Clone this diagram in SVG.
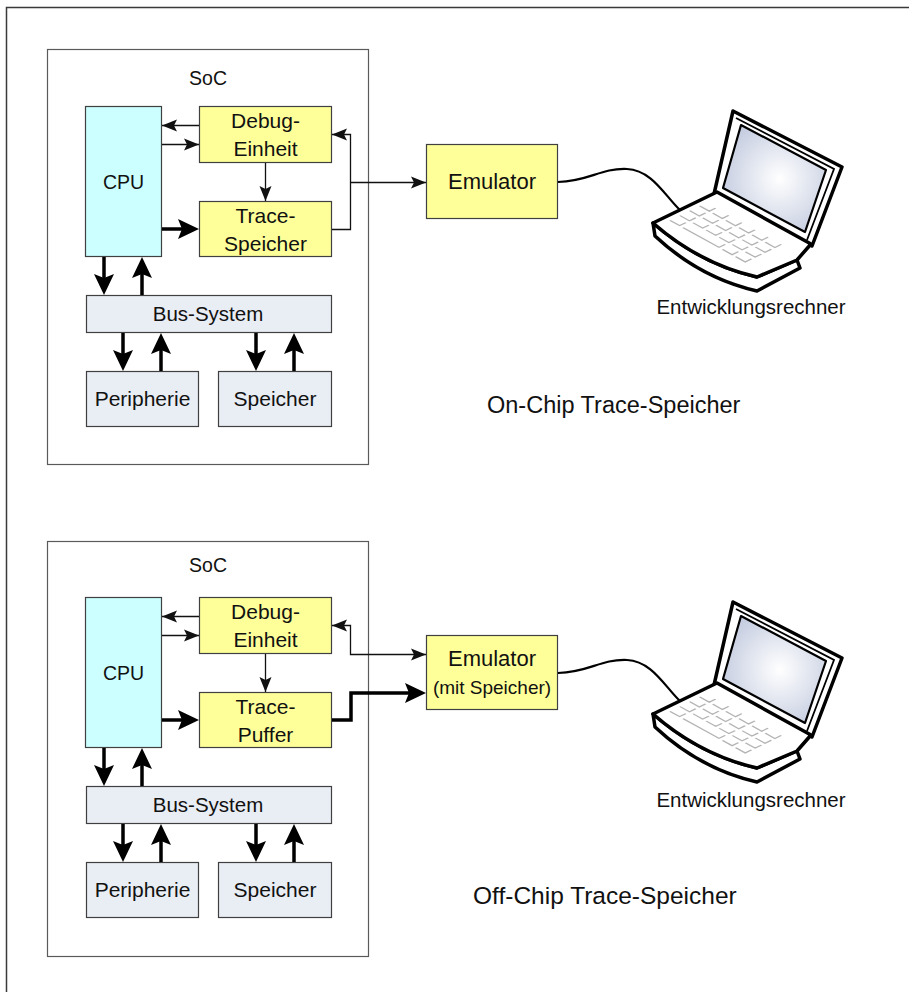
<svg xmlns="http://www.w3.org/2000/svg" xmlns:xlink="http://www.w3.org/1999/xlink" width="909" height="992" viewBox="0 0 909 992">
  <style>
    text { font-family: "Liberation Sans", Arial, sans-serif; font-size: 21px; fill: #111; text-anchor: middle; }
    .cap { font-size: 23.5px; text-anchor: start; }
    .small { font-size: 19px; }
    .soc { fill: #ffffff; stroke: #5a5a5a; stroke-width: 1.2; }
    .box { stroke: #404040; stroke-width: 1.2; }
    .cpu { fill: #ccffff; }
    .yel { fill: #ffff99; }
    .gry { fill: #e9edf4; }
    .thin { fill: none; stroke: #111; stroke-width: 1.3; }
    .thick { fill: none; stroke: #000; stroke-width: 3.5; }
    .cable { fill: none; stroke: #000; stroke-width: 2.2; }
    .lap { fill: #ffffff; stroke: #000; stroke-width: 3.5; stroke-linejoin: round; }
    .keys { fill: none; stroke: #b4b4b4; stroke-width: 1.6; }
  </style>
  <defs>
    <marker id="ah" markerUnits="userSpaceOnUse" markerWidth="15" markerHeight="12" refX="15" refY="6" orient="auto-start-reverse" overflow="visible">
      <path d="M0,0 L15,6 L0,12 L3,6 Z" fill="#111"/>
    </marker>
    <marker id="ahb" markerUnits="userSpaceOnUse" markerWidth="21" markerHeight="20" refX="13" refY="10" orient="auto" overflow="visible">
      <path d="M0,0 L21,10 L0,20 L4,10 Z" fill="#000"/>
    </marker>
    <radialGradient id="screen" cx="0.55" cy="0.5" r="0.6">
      <stop offset="0" stop-color="#ffffff"/>
      <stop offset="1" stop-color="#c3cbdf"/>
    </radialGradient>
    <!-- notebook computer, drawn at the upper position -->
    <g id="laptop">
      <path class="lap" d="M733,111 L842,167 L812,246 L714,194 Z"/>
      <path fill="none" stroke="#000" stroke-width="1.8" d="M736,118 L834,169 L807,240"/>
      <path fill="url(#screen)" stroke="#000" stroke-width="2.2" stroke-linejoin="round" d="M741,125 L826,170 L805,232 L723,188 Z"/>
      <path class="lap" d="M653,223 L655,236 Q700,278 757,291 L800,268 L797,260 L757,277 Q700,264 653,223 Z"/>
      <path class="lap" d="M653,223 L717,192 L811,244 L797,260 L757,277 Q700,264 653,223 Z"/>
      <path class="keys" transform="matrix(0.875,0.484,-0.9,0.436,706,201)"
        d="M2,9 H13 V2 M17,9 H28 V2 M32,9 H43 V2 M47,9 H58 V2 M62,9 H73 V2 M77,9 H88 V2
           M2,20 H13 V13 M17,20 H28 V13 M32,20 H43 V13 M47,20 H58 V13 M62,20 H73 V13 M77,20 H88 V13
           M2,31 H13 V24 M17,31 H28 V24 M32,31 H43 V24 M47,31 H58 V24 M62,31 H73 V24 M77,31 H88 V24
           M2,42 H13 V35 M17,42 H58 V35 M62,42 H73 V35 M77,42 H88 V35"/>
    </g>
  </defs>

  <!-- outer frame -->
  <rect x="6.5" y="7.5" width="980" height="1000" fill="#ffffff" stroke="#3a3a3a" stroke-width="1.5"/>

  <!-- ===== upper variant: on-chip trace memory ===== -->
  <g id="soc-top">
    <rect class="soc" x="47.5" y="49.5" width="321" height="415"/>
    <text x="208" y="85" style="font-size:19.5px">SoC</text>
  </g>
  <g id="cpu-top">
    <rect class="box cpu" x="85.5" y="106.5" width="76" height="150"/>
    <text x="123.5" y="189" style="font-size:19.5px">CPU</text>
  </g>
  <g id="debug-top">
    <rect class="box yel" x="199.5" y="106.5" width="132" height="56"/>
    <text x="265.5" y="128">Debug-</text>
    <text x="265.5" y="156">Einheit</text>
  </g>
  <g id="trace-top">
    <rect class="box yel" x="199.5" y="201.5" width="132" height="55"/>
    <text x="265.5" y="223">Trace-</text>
    <text x="265.5" y="251">Speicher</text>
  </g>
  <g id="bus-top">
    <rect class="box gry" x="86.5" y="295.5" width="245" height="37"/>
    <text x="208" y="321" style="font-size:20.5px">Bus-System</text>
  </g>
  <g id="periph-top">
    <rect class="box gry" x="86.5" y="371.5" width="112" height="55"/>
    <text x="142.5" y="406">Peripherie</text>
  </g>
  <g id="mem-top">
    <rect class="box gry" x="218.5" y="371.5" width="113" height="55"/>
    <text x="275" y="406">Speicher</text>
  </g>
  <g id="emu-top">
    <rect class="box yel" x="426.5" y="144.5" width="131" height="74"/>
    <text x="492" y="189" style="font-size:22px">Emulator</text>
  </g>
  <g id="pc-top">
    <use xlink:href="#laptop" href="#laptop"/>
    <text x="751" y="314" style="font-size:20.5px">Entwicklungsrechner</text>
  </g>
  <g id="caption-top">
    <text class="cap" x="487" y="413">On-Chip Trace-Speicher</text>
  </g>

  <!-- ===== lower variant: off-chip trace memory ===== -->
  <g id="soc-bottom">
    <rect class="soc" x="47.5" y="541.5" width="321" height="415"/>
    <text x="208" y="572" style="font-size:19.5px">SoC</text>
  </g>
  <g id="cpu-bottom">
    <rect class="box cpu" x="85.5" y="597.5" width="76" height="150"/>
    <text x="123.5" y="680" style="font-size:19.5px">CPU</text>
  </g>
  <g id="debug-bottom">
    <rect class="box yel" x="199.5" y="597.5" width="132" height="56"/>
    <text x="265.5" y="619">Debug-</text>
    <text x="265.5" y="647">Einheit</text>
  </g>
  <g id="trace-bottom">
    <rect class="box yel" x="199.5" y="692.5" width="132" height="55"/>
    <text x="265.5" y="714">Trace-</text>
    <text x="265.5" y="742">Puffer</text>
  </g>
  <g id="bus-bottom">
    <rect class="box gry" x="86.5" y="786.5" width="245" height="37"/>
    <text x="208" y="812" style="font-size:20.5px">Bus-System</text>
  </g>
  <g id="periph-bottom">
    <rect class="box gry" x="86.5" y="862.5" width="112" height="55"/>
    <text x="142.5" y="897">Peripherie</text>
  </g>
  <g id="mem-bottom">
    <rect class="box gry" x="218.5" y="862.5" width="113" height="55"/>
    <text x="275" y="897">Speicher</text>
  </g>
  <g id="emu-bottom">
    <rect class="box yel" x="426.5" y="635.5" width="131" height="74"/>
    <text x="492" y="666" style="font-size:22px">Emulator</text>
    <text x="492" y="694" class="small">(mit Speicher)</text>
  </g>
  <g id="pc-bottom">
    <use xlink:href="#laptop" href="#laptop" transform="translate(0,491)"/>
    <text x="751" y="807" style="font-size:20.5px">Entwicklungsrechner</text>
  </g>
  <g id="caption-bottom">
    <text class="cap" x="473" y="904" style="font-size:24.5px">Off-Chip Trace-Speicher</text>
  </g>

  <!-- ===== connectors ===== -->
  <g id="connectors">
    <!-- upper -->
    <path class="thin" marker-end="url(#ah)" d="M199,125.5 H162"/>
    <path class="thin" marker-end="url(#ah)" d="M162,144.5 H199"/>
    <path class="thin" marker-end="url(#ah)" d="M265.5,163 V201"/>
    <path class="thick" marker-end="url(#ahb)" d="M162,229 H191"/>
    <path class="thin" marker-end="url(#ah)" d="M332,229.5 H350.5 V134.5 H332"/>
    <path class="thin" marker-end="url(#ah)" d="M350.5,182.5 H426"/>
    <path class="thick" marker-end="url(#ahb)" d="M104,257 V287"/>
    <path class="thick" marker-end="url(#ahb)" d="M142,295 V265"/>
    <path class="thick" marker-end="url(#ahb)" d="M123,333 V363"/>
    <path class="thick" marker-end="url(#ahb)" d="M161,371 V341"/>
    <path class="thick" marker-end="url(#ahb)" d="M256,333 V363"/>
    <path class="thick" marker-end="url(#ahb)" d="M294,371 V341"/>
    <path class="cable" d="M558,182 C590,181 600,168 627,169 C652,170 665,196 680,210"/>

    <!-- lower -->
    <path class="thin" marker-end="url(#ah)" d="M199,616.5 H162"/>
    <path class="thin" marker-end="url(#ah)" d="M162,635.5 H199"/>
    <path class="thin" marker-end="url(#ah)" d="M265.5,654 V692"/>
    <path class="thick" marker-end="url(#ahb)" d="M162,720 H191"/>
    <path class="thin" marker-start="url(#ah)" marker-end="url(#ah)" d="M332,625.5 H350.5 V654.5 H426"/>
    <path class="thick" marker-end="url(#ahb)" d="M332,720 H351 V693 H418"/>
    <path class="thick" marker-end="url(#ahb)" d="M104,748 V778"/>
    <path class="thick" marker-end="url(#ahb)" d="M142,786 V756"/>
    <path class="thick" marker-end="url(#ahb)" d="M123,824 V854"/>
    <path class="thick" marker-end="url(#ahb)" d="M161,862 V832"/>
    <path class="thick" marker-end="url(#ahb)" d="M256,824 V854"/>
    <path class="thick" marker-end="url(#ahb)" d="M294,862 V832"/>
    <path class="cable" d="M558,673 C590,672 600,659 627,660 C652,661 665,687 680,701"/>
  </g>
</svg>
